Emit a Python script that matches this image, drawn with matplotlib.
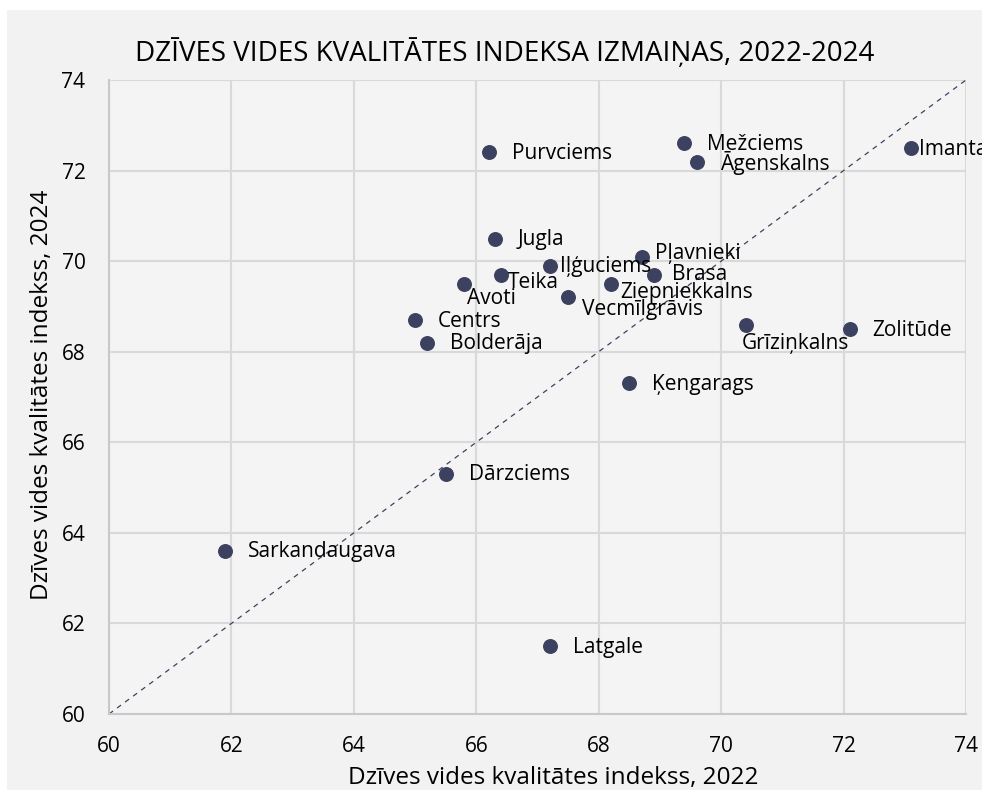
import numpy as np
import matplotlib.pyplot as plt
from matplotlib.patches import Rectangle

# Living environment quality index by neighbourhood, 2022 vs 2024
districts = ["Purvciems", "Mežciems", "Āgenskalns", "Imanta", "Jugla", "Pļavnieki",
             "Iļģuciems", "Teika", "Brasa", "Avoti", "Ziepniekkalns", "Vecmīlgrāvis",
             "Centrs", "Bolderāja", "Grīziņkalns", "Zolitūde", "Ķengarags",
             "Dārzciems", "Sarkandaugava", "Latgale"]
index_2022 = [66.2, 69.4, 69.6, 73.1, 66.3, 68.7, 67.2, 66.4, 68.9, 65.8, 68.2, 67.5,
              65.0, 65.2, 70.4, 72.1, 68.5, 65.5, 61.9, 67.2]
index_2024 = [72.4, 72.6, 72.2, 72.5, 70.5, 70.1, 69.9, 69.7, 69.7, 69.5, 69.5, 69.2,
              68.7, 68.2, 68.6, 68.5, 67.3, 65.3, 63.6, 61.5]

# label offsets in pixels (dx, dy), default sits to the right of the dot
label_offsets = {
    "Imanta": (8, -2), "Pļavnieki": (13, 3), "Iļģuciems": (10, -1),
    "Teika": (7, -8), "Brasa": (18, 0), "Avoti": (3, -15),
    "Ziepniekkalns": (9, -9), "Vecmīlgrāvis": (14, -12), "Grīziņkalns": (-4, -19),
}

dot_color = "#3d4160"
grid_color = "#d9d9d9"
font = "Open Sans"

fig = plt.figure(figsize=(9.82, 7.90), dpi=100, facecolor="white")
fig.patches.append(Rectangle((7 / 982, 0), 1, 1 - 10 / 790, transform=fig.transFigure,
                             facecolor="#f2f2f2", edgecolor="none", zorder=-10))

ax = fig.add_axes([109 / 982, 76 / 790, 857 / 982, 634 / 790])
ax.set_facecolor("#f4f4f4")

ax.set_xlim(60, 74)
ax.set_ylim(60, 74)
ax.set_xticks(np.arange(60, 75, 2))
ax.set_yticks(np.arange(60, 75, 2))
ax.grid(True, color=grid_color, linewidth=1.5)
ax.set_axisbelow(True)
for side in ["top", "right"]:
    ax.spines[side].set_visible(False)
for side in ["left", "bottom"]:
    ax.spines[side].set_color("#c8c8c8")
    ax.spines[side].set_linewidth(1.5)
ax.tick_params(length=0)
ax.tick_params(axis="x", pad=16)
ax.tick_params(axis="y", pad=17)
for t in ax.get_xticklabels() + ax.get_yticklabels():
    t.set(fontsize=15, family=font)

# 1:1 reference line
ax.plot([60, 74], [60, 74], linestyle=(0, (4, 4)), color=dot_color, linewidth=0.9, zorder=2)

ax.scatter(index_2022, index_2024, s=95, color=dot_color, zorder=3)

for name, x, y in zip(districts, index_2022, index_2024):
    dx, dy = label_offsets.get(name, (23, -1))
    ax.annotate(name, (x, y), xytext=(dx * 0.72, dy * 0.72), textcoords="offset points",
                ha="left", va="center", fontsize=15, family=font, color="black",
                annotation_clip=False, zorder=4)

fig.text(505 / 982, 1 - 61 / 790, "DZĪVES VIDES KVALITĀTES INDEKSA IZMAIŅAS, 2022-2024",
         ha="center", va="baseline", fontsize=20, family=font, color="black")
fig.text(553 / 982, 1 - 784 / 790, "Dzīves vides kvalitātes indekss, 2022",
         ha="center", va="baseline", fontsize=17.5, family=font, color="black")
fig.text(48 / 982, 1 - 395 / 790, "Dzīves vides kvalitātes indekss, 2024",
         ha="center", va="baseline", rotation=90, rotation_mode="anchor",
         fontsize=17.5, family=font, color="black")

fig.savefig("out.png", dpi=100)
